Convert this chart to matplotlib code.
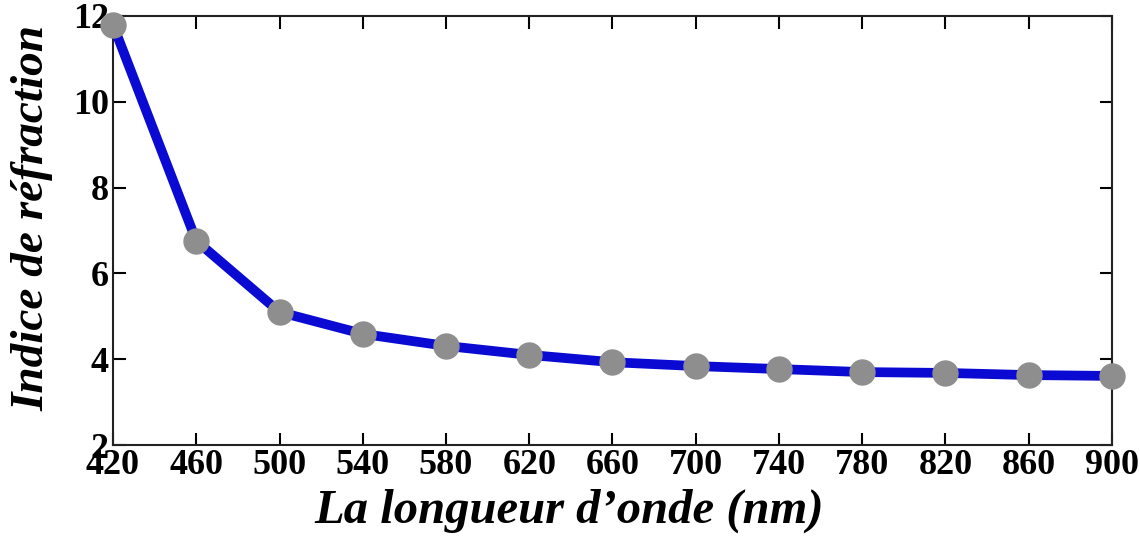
import matplotlib.pyplot as plt

# Longueur d'onde (nm) et indice de réfraction
wavelength = [420, 460, 500, 540, 580, 620, 660, 700, 740, 780, 820, 860, 900]
n_index = [11.8, 6.76, 5.10, 4.59, 4.31, 4.10, 3.93, 3.84, 3.77, 3.70, 3.68, 3.63, 3.61]
x_ticks = [420, 460, 500, 540, 580, 620, 660, 700, 740, 780, 820, 860, 900]
y_ticks = [2, 4, 6, 8, 10, 12]

plt.rcParams['font.family'] = ['Liberation Serif', 'DejaVu Serif']

fig = plt.figure(figsize=(11.4, 5.44), dpi=100)
ax = fig.add_axes([113 / 1140, 1 - 445 / 544, 999 / 1140, 429 / 544])

ax.plot(wavelength, n_index, color='#0a0ad2', linewidth=7, marker='o',
        markersize=18, markerfacecolor='#8e8e8e', markeredgecolor='#8e8e8e',
        solid_capstyle='round', zorder=3, clip_on=False)

ax.set_xlim(420, 900)
ax.set_ylim(2, 12)
ax.set_xticks(x_ticks)
ax.set_yticks(y_ticks)
ax.tick_params(axis='both', direction='in', length=9, width=1.5,
               top=True, right=True, labelsize=26, pad=3)
for lab in ax.get_xticklabels() + ax.get_yticklabels():
    lab.set_fontweight('bold')
for s in ax.spines.values():
    s.set_linewidth(1.5)
    s.set_color('#222222')

ax.set_xlabel("La longueur d\u2019onde (nm)", fontsize=35, fontweight='bold',
              fontstyle='italic')
ax.xaxis.set_label_coords(0.457, -0.102)
ax.set_ylabel("Indice de r\u00e9fraction", fontsize=34, fontweight='bold',
              fontstyle='italic')
ax.yaxis.set_label_coords(-0.06, 0.53)

fig.savefig('out.png', dpi=100)
